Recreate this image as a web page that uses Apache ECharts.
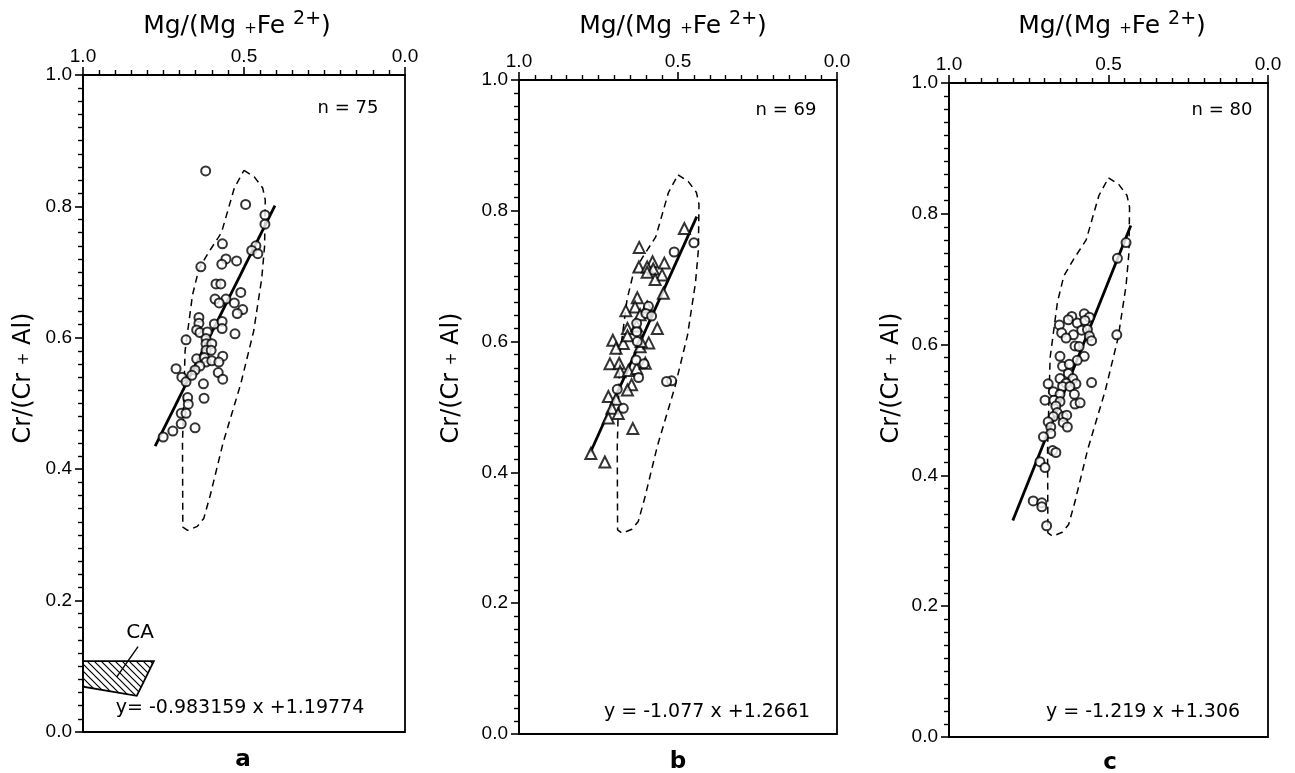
<!DOCTYPE html>
<html>
<head>
<meta charset="utf-8">
<script src="https://cdn.jsdelivr.net/npm/echarts@6/dist/echarts.min.js"></script>
<style>
  html, body { margin: 0; padding: 0; background: #fff; }
  #chart { width: 1295px; height: 773px; }
</style>
</head>
<body>
<div id="chart"></div>
<script>
// 数据: [Mg/(Mg+Fe2+), Cr/(Cr+Al)]
var ptsA = [
    [0.619, 0.854], [0.495, 0.803], [0.435, 0.787], [0.435, 0.773], [0.567, 0.743],
    [0.463, 0.740], [0.476, 0.733], [0.457, 0.728], [0.556, 0.720], [0.523, 0.717],
    [0.569, 0.712], [0.634, 0.708], [0.587, 0.682], [0.572, 0.682], [0.510, 0.669],
    [0.590, 0.659], [0.556, 0.659], [0.577, 0.653], [0.530, 0.653], [0.504, 0.643],
    [0.521, 0.637], [0.640, 0.631], [0.640, 0.622], [0.592, 0.621], [0.568, 0.625],
    [0.568, 0.614], [0.647, 0.612], [0.637, 0.608], [0.614, 0.609], [0.528, 0.606],
    [0.680, 0.597], [0.618, 0.599], [0.618, 0.591], [0.600, 0.591], [0.618, 0.581],
    [0.602, 0.581], [0.566, 0.572], [0.647, 0.568], [0.623, 0.570], [0.618, 0.563],
    [0.600, 0.565], [0.578, 0.563], [0.637, 0.557], [0.652, 0.551], [0.711, 0.553],
    [0.693, 0.540], [0.680, 0.533], [0.662, 0.543], [0.580, 0.547], [0.566, 0.537],
    [0.626, 0.530], [0.675, 0.509], [0.624, 0.508], [0.673, 0.499], [0.695, 0.485],
    [0.680, 0.485], [0.695, 0.469], [0.652, 0.463], [0.721, 0.458], [0.751, 0.449]
];

var triB = [
    [0.480, 0.773], [0.622, 0.744], [0.580, 0.722], [0.543, 0.720], [0.623, 0.714],
    [0.597, 0.714], [0.578, 0.711], [0.597, 0.706], [0.550, 0.702], [0.572, 0.695],
    [0.546, 0.674], [0.628, 0.667], [0.635, 0.653], [0.664, 0.647], [0.597, 0.653],
    [0.619, 0.641], [0.565, 0.620], [0.659, 0.620], [0.630, 0.624], [0.705, 0.602],
    [0.672, 0.597], [0.695, 0.590], [0.659, 0.609], [0.619, 0.592], [0.592, 0.598],
    [0.714, 0.566], [0.685, 0.567], [0.682, 0.554], [0.656, 0.556], [0.630, 0.559],
    [0.646, 0.534], [0.659, 0.526], [0.719, 0.516], [0.695, 0.512], [0.708, 0.498],
    [0.688, 0.490], [0.719, 0.483], [0.642, 0.467], [0.616, 0.600], [0.603, 0.567],
    [0.774, 0.429], [0.730, 0.416]
];
var cirB = [
    [0.512, 0.737], [0.450, 0.751], [0.593, 0.654], [0.601, 0.643], [0.583, 0.639],
    [0.630, 0.628], [0.630, 0.615], [0.628, 0.600], [0.632, 0.572], [0.607, 0.566],
    [0.624, 0.545], [0.691, 0.527], [0.672, 0.498], [0.520, 0.540], [0.536, 0.539]
];

var ptsC = [
    [0.445, 0.756], [0.472, 0.732], [0.474, 0.615], [0.553, 0.542], [0.576, 0.647],
    [0.560, 0.642], [0.615, 0.643], [0.626, 0.638], [0.598, 0.633], [0.574, 0.637],
    [0.654, 0.630], [0.584, 0.622], [0.566, 0.623], [0.647, 0.618], [0.610, 0.615],
    [0.633, 0.610], [0.560, 0.613], [0.553, 0.606], [0.605, 0.598], [0.592, 0.597],
    [0.652, 0.582], [0.576, 0.582], [0.598, 0.576], [0.644, 0.567], [0.623, 0.570],
    [0.626, 0.556], [0.652, 0.548], [0.612, 0.548], [0.633, 0.541], [0.602, 0.540],
    [0.689, 0.540], [0.644, 0.536], [0.621, 0.536], [0.673, 0.528], [0.652, 0.524],
    [0.607, 0.524], [0.699, 0.515], [0.671, 0.515], [0.652, 0.513], [0.605, 0.509],
    [0.589, 0.511], [0.665, 0.506], [0.661, 0.496], [0.673, 0.490], [0.642, 0.490],
    [0.631, 0.492], [0.689, 0.482], [0.642, 0.481], [0.629, 0.474], [0.681, 0.474],
    [0.681, 0.464], [0.704, 0.459], [0.675, 0.438], [0.665, 0.435], [0.715, 0.421],
    [0.699, 0.412], [0.736, 0.361], [0.709, 0.358], [0.709, 0.352], [0.694, 0.323]
];

// 回归线端点
var lineA = [[0.776, 0.435], [0.404, 0.801]];
var lineB = [[0.776, 0.430], [0.441, 0.791]];
var lineC = [[0.800, 0.331], [0.430, 0.782]];

// 虚线包络区
var envelope = [
    [0.500, 0.855], [0.468, 0.845], [0.442, 0.828], [0.434, 0.810], [0.436, 0.740],
    [0.445, 0.690], [0.470, 0.610], [0.510, 0.530], [0.565, 0.440], [0.605, 0.360],
    [0.625, 0.325], [0.645, 0.313], [0.675, 0.307], [0.690, 0.312], [0.691, 0.440],
    [0.683, 0.580], [0.660, 0.665], [0.640, 0.705], [0.610, 0.730], [0.570, 0.760],
    [0.530, 0.828], [0.500, 0.855]
];

// CA 区域 (阴影) 及指引线
var caArea = [[1.0, 0.108], [0.780, 0.108], [0.833, 0.055], [1.0, 0.069]];
var caLeader = [[0.829, 0.130], [0.895, 0.084]];

var xTicks = [1.0, 0.5, 0.0];
var yTicks = [0.0, 0.2, 0.4, 0.6, 0.8, 1.0];
var counts = ["n = 75", "n = 69", "n = 80"];
var equations = ["y= -0.983159 x +1.19774", "y = -1.077 x +1.2661", "y = -1.219 x +1.306"];
var panelNames = ["a", "b", "c"];

var FONT = "DejaVu Sans";
var TICKFONT = "Liberation Sans";

// 面板位置
var grids = [
    { left: 83, top: 75, width: 322, height: 657 },
    { left: 519, top: 80, width: 318, height: 654 },
    { left: 949, top: 83, width: 319, height: 654 }
];

// 斜线填充图案
function hatchPattern() {
    var c = document.createElement("canvas");
    c.width = 7;
    c.height = 7;
    var ctx = c.getContext("2d");
    ctx.strokeStyle = "#000";
    ctx.lineWidth = 1.2;
    ctx.beginPath();
    ctx.moveTo(-1, -1);
    ctx.lineTo(8, 8);
    ctx.moveTo(-1, 6);
    ctx.lineTo(1, 8);
    ctx.moveTo(6, -1);
    ctx.lineTo(8, 1);
    ctx.stroke();
    return { image: c, repeat: "repeat" };
}
var pattern = hatchPattern();

var xAxes = [], yAxes = [], series = [], graphics = [];

for (var i = 0; i < 3; i++) {
    var g = grids[i];
    g.show = true;
    g.borderColor = "#000";
    g.borderWidth = 1.8;
    g.backgroundColor = "transparent";

    xAxes.push({
        gridIndex: i, type: "value", position: "top", inverse: true,
        min: 0, max: 1, interval: 0.5,
        axisLine: { show: true, onZero: false, lineStyle: { color: "#000", width: 2 } },
        axisTick: { show: true, length: 8, lineStyle: { color: "#000", width: 1.6 } },
        minorTick: { show: true, splitNumber: 10, length: 5, lineStyle: { color: "#000", width: 1.4 } },
        splitLine: { show: false },
        axisLabel: {
            color: "#000", fontFamily: TICKFONT, fontSize: 19, margin: 9,
            formatter: function (v) { return xTicks.indexOf(v) >= 0 ? v.toFixed(1) : ""; }
        }
    });
    yAxes.push({
        gridIndex: i, type: "value", min: 0, max: 1, interval: 0.2,
        axisLine: { show: true, onZero: false, lineStyle: { color: "#000", width: 2 } },
        axisTick: { show: true, length: 8, lineStyle: { color: "#000", width: 1.6 } },
        minorTick: { show: true, splitNumber: 10, length: 5, lineStyle: { color: "#000", width: 1.4 } },
        splitLine: { show: false },
        axisLabel: {
            color: "#000", fontFamily: TICKFONT, fontSize: 19, margin: 11,
            formatter: function (v) { return v.toFixed(1); }
        }
    });

    // 包络线
    series.push({
        type: "line", xAxisIndex: i, yAxisIndex: i, data: envelope,
        symbol: "none", silent: true,
        lineStyle: { color: "#000", width: 1.5, type: [7, 5] }
    });
}

// 回归线
var regLines = [lineA, lineB, lineC];
for (var i = 0; i < 3; i++) {
    series.push({
        type: "line", xAxisIndex: i, yAxisIndex: i, data: regLines[i],
        symbol: "none", silent: true, z: 3,
        lineStyle: { color: "#000", width: 2.8 }
    });
}

var markStyle = { color: "#fff", borderColor: "#000", borderWidth: 2 };

series.push({ type: "scatter", xAxisIndex: 0, yAxisIndex: 0, data: ptsA, symbol: "circle", symbolSize: 9, itemStyle: markStyle, z: 4 });
series.push({ type: "scatter", xAxisIndex: 1, yAxisIndex: 1, data: triB, symbol: "triangle", symbolSize: 11, itemStyle: markStyle, z: 4 });
series.push({ type: "scatter", xAxisIndex: 1, yAxisIndex: 1, data: cirB, symbol: "circle", symbolSize: 9, itemStyle: markStyle, z: 4 });
series.push({ type: "scatter", xAxisIndex: 2, yAxisIndex: 2, data: ptsC, symbol: "circle", symbolSize: 9, itemStyle: markStyle, z: 4 });

// CA 阴影区
series.push({
    type: "custom", xAxisIndex: 0, yAxisIndex: 0, data: caArea, silent: true, z: 2,
    renderItem: function (params, api) {
        if (params.dataIndex !== 0) return;
        var pts = [];
        for (var k = 0; k < caArea.length; k++) {
            pts.push(api.coord(caArea[k]));
        }
        return {
            type: "polygon",
            shape: { points: pts },
            style: { fill: pattern, stroke: "#000", lineWidth: 1.8 }
        };
    }
});
series.push({
    type: "line", xAxisIndex: 0, yAxisIndex: 0, data: caLeader,
    symbol: "none", silent: true, lineStyle: { color: "#000", width: 1.4 }
});

// 文字
var xNamePos = [237, 673, 1112];
var yNamePos = [24, 452, 892];
var countPos = [[348, 108], [786, 110], [1222, 110]];
var eqPos = [[240, 708], [707, 712], [1143, 712]];
var letterPos = [[243, 760], [678, 762], [1110, 763]];

for (var i = 0; i < 3; i++) {
    graphics.push({
        type: "text", x: xNamePos[i], y: 24,
        style: {
            text: "{t|Mg/(Mg }{p|+}{t|Fe }{s|2+}{t|)}",
            align: "center", verticalAlign: "middle",
            rich: {
                t: { fontFamily: FONT, fontSize: 25, fill: "#000", verticalAlign: "bottom" },
                p: { fontFamily: FONT, fontSize: 15, fill: "#000", verticalAlign: "bottom", padding: [0, 0, 2, 0] },
                s: { fontFamily: FONT, fontSize: 19, fill: "#000", verticalAlign: "top", padding: [0, 0, 10, 0] }
            }
        }
    });
    graphics.push({
        type: "text", x: yNamePos[i], y: 378, rotation: Math.PI / 2,
        style: {
            text: "{t|Cr/(Cr }{p|+}{t| Al)}",
            align: "center", verticalAlign: "middle",
            rich: {
                t: { fontFamily: FONT, fontSize: 24, fill: "#000" },
                p: { fontFamily: FONT, fontSize: 15, fill: "#000" }
            }
        }
    });
    graphics.push({
        type: "text", x: countPos[i][0], y: countPos[i][1],
        style: { text: counts[i], fontFamily: FONT, fontSize: 18, fill: "#000", align: "center", verticalAlign: "middle" }
    });
    graphics.push({
        type: "text", x: eqPos[i][0], y: eqPos[i][1],
        style: { text: equations[i], fontFamily: FONT, fontSize: 19, fill: "#000", align: "center", verticalAlign: "middle" }
    });
    graphics.push({
        type: "text", x: letterPos[i][0], y: letterPos[i][1],
        style: { text: panelNames[i], fontFamily: FONT, fontSize: 23, fontWeight: "bold", fill: "#000", align: "center", verticalAlign: "middle" }
    });
}
graphics.push({
    type: "text", x: 140, y: 633,
    style: { text: "CA", fontFamily: FONT, fontSize: 20, fill: "#000", align: "center", verticalAlign: "middle" }
});

var chart = echarts.init(document.getElementById("chart"));
chart.setOption({
    animation: false,
    backgroundColor: "#fff",
    grid: grids,
    xAxis: xAxes,
    yAxis: yAxes,
    series: series,
    graphic: graphics
});
</script>
</body>
</html>
